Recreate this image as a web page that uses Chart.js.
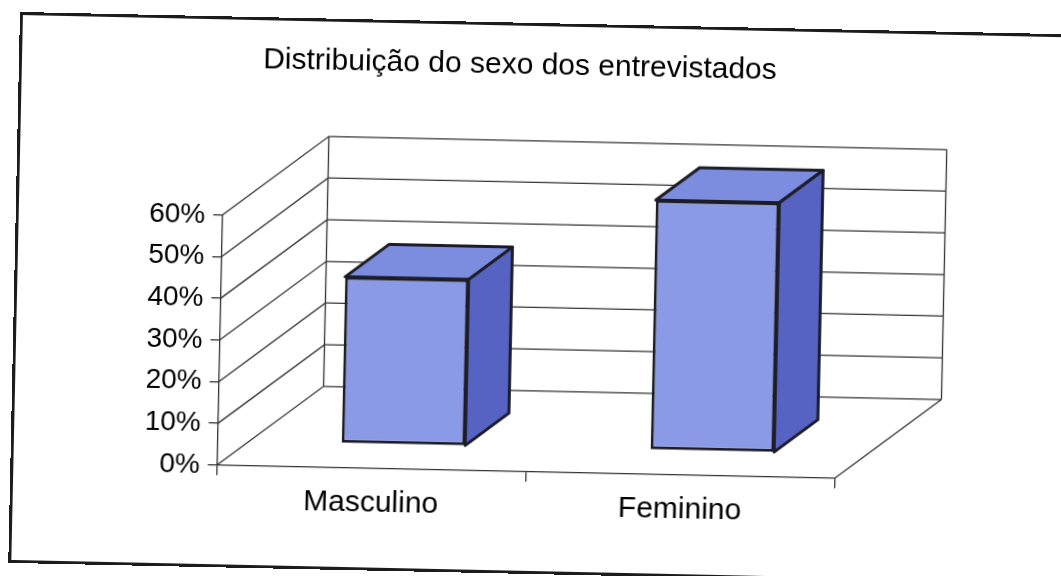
<!DOCTYPE html>
<html lang="pt-BR">
<head>
<meta charset="utf-8">
<title>Distribuição do sexo dos entrevistados</title>
<script src="https://cdn.jsdelivr.net/npm/chart.js@4.4.1/dist/chart.umd.min.js"></script>
<style>
    html, body { margin: 0; padding: 0; background: #fff; }
    body { width: 1061px; height: 576px; overflow: hidden; position: relative; }
    /* quadro levemente inclinado, como a página digitalizada */
    #quadro {
        position: absolute; left: 20px; top: 12px;
        width: 1060px; height: 551px;
        transform: rotate(1.22deg); transform-origin: 0 0;
    }
    #area-grafico { position: absolute; left: 0; top: 1px; width: 1002px; height: 548px; }
    #moldura {
        position: absolute; left: 0; top: 0; right: 0; bottom: 0;
        border: 3px solid #1c1c1c; box-sizing: border-box; pointer-events: none;
    }
</style>
</head>
<body>
<div id="quadro">
    <div id="area-grafico"><canvas id="graficoSexo"></canvas></div>
    <div id="moldura"></div>
</div>
<script>
// Dados do gráfico
const categorias = ['Masculino', 'Feminino'];
const percentuais = [0.40, 0.60];
const ticksEixoY = [0, 0.1, 0.2, 0.3, 0.4, 0.5, 0.6];

// Aparência
const corLinha = '#333333';
const corFrente = '#8a9ae6';
const corTopo = '#7c8cde';
const corLado = '#5663c2';
const corContorno = '#1d1d28';
const fonte = "'Liberation Sans', Arial, sans-serif";

// Perspectiva: deslocamento da parede do fundo em relação ao plano frontal
const profundidade = { x: 105, y: -81 };
const frenteBarra = 0.30; // posição da face frontal da barra na profundidade
const fundoBarra = 0.71;  // posição da face traseira

const efeito3d = {
    id: 'efeito3d',
    beforeDatasetsDraw(chart) {
        const { ctx, chartArea: a, scales: { y } } = chart;
        const dx = profundidade.x, dy = profundidade.y;
        const y0 = y.getPixelForValue(y.min);
        const yMax = y.getPixelForValue(y.max);

        // Paredes lateral e do fundo com as linhas de grade
        ctx.save();
        ctx.strokeStyle = corLinha;
        ctx.lineWidth = 1.3;
        ctx.beginPath();
        ticksEixoY.forEach(v => {
            const py = y.getPixelForValue(v);
            ctx.moveTo(a.left, py);
            ctx.lineTo(a.left + dx, py + dy);
            ctx.lineTo(a.right + dx, py + dy);
        });
        ctx.moveTo(a.left + dx, y0 + dy);
        ctx.lineTo(a.left + dx, yMax + dy);
        ctx.moveTo(a.right + dx, y0 + dy);
        ctx.lineTo(a.right + dx, yMax + dy);
        // lado direito do piso
        ctx.moveTo(a.right, y0);
        ctx.lineTo(a.right + dx, y0 + dy);
        ctx.stroke();

        // Topo e lateral de cada barra
        const fx = frenteBarra * dx, fy = frenteBarra * dy;
        const bx = (fundoBarra - frenteBarra) * dx, by = (fundoBarra - frenteBarra) * dy;
        ctx.lineWidth = 3;
        ctx.lineJoin = 'round';
        ctx.strokeStyle = corContorno;
        chart.getDatasetMeta(0).data.forEach(barra => {
            const { x, y: topo, base, width } = barra.getProps(['x', 'y', 'base', 'width'], true);
            const esq = x - width / 2 + fx;
            const dir = x + width / 2 + fx;
            const t = topo + fy;
            const b = base + fy;

            ctx.beginPath();
            ctx.moveTo(esq, t);
            ctx.lineTo(esq + bx, t + by);
            ctx.lineTo(dir + bx, t + by);
            ctx.lineTo(dir, t);
            ctx.closePath();
            ctx.fillStyle = corTopo;
            ctx.fill();
            ctx.stroke();

            ctx.beginPath();
            ctx.moveTo(dir, t);
            ctx.lineTo(dir + bx, t + by);
            ctx.lineTo(dir + bx, b + by);
            ctx.lineTo(dir, b);
            ctx.closePath();
            ctx.fillStyle = corLado;
            ctx.fill();
            ctx.stroke();
        });
        ctx.restore();

        // A face frontal (desenhada pelo Chart.js) fica no meio da profundidade
        ctx.save();
        ctx.translate(fx, fy);
    },
    afterDatasetsDraw(chart) {
        chart.ctx.restore();
    }
};

function inicializarGrafico() {
    const ctx = document.getElementById('graficoSexo').getContext('2d');

    new Chart(ctx, {
        type: 'bar',
        data: {
            labels: categorias,
            datasets: [{
                label: 'Entrevistados',
                data: percentuais,
                backgroundColor: corFrente,
                borderColor: corContorno,
                borderWidth: 3,
                borderSkipped: false,
                categoryPercentage: 1,
                barPercentage: 0.4,
                clip: false
            }]
        },
        options: {
            responsive: true,
            maintainAspectRatio: false,
            animation: false,
            events: [],
            layout: { padding: 0 },
            plugins: {
                legend: { display: false },
                tooltip: { enabled: false },
                title: {
                    display: true,
                    text: 'Distribuição do sexo dos entrevistados',
                    color: '#000',
                    font: { family: fonte, size: 30, weight: 'normal', lineHeight: 1.2 },
                    padding: { top: 23.5, bottom: 138.3 }
                }
            },
            scales: {
                x: {
                    offset: true,
                    grid: {
                        offset: true,
                        drawOnChartArea: false,
                        drawTicks: true,
                        tickLength: 10,
                        color: corLinha,
                        lineWidth: 1.3
                    },
                    border: { display: true, color: corLinha, width: 1.3 },
                    ticks: {
                        color: '#000',
                        padding: 7,
                        font: { family: fonte, size: 30 }
                    },
                    afterFit: escala => { escala.height = 100.2; }
                },
                y: {
                    min: 0,
                    max: 0.6,
                    afterBuildTicks: escala => {
                        escala.ticks = ticksEixoY.map(v => ({ value: v }));
                    },
                    grid: {
                        drawOnChartArea: false,
                        drawTicks: true,
                        tickLength: 9,
                        color: corLinha,
                        lineWidth: 1.3
                    },
                    border: { display: true, color: corLinha, width: 1.3 },
                    ticks: {
                        color: '#000',
                        padding: 8,
                        font: { family: fonte, size: 28 },
                        callback: v => Math.round(v * 100) + '%'
                    },
                    afterFit: escala => { escala.width = 206.5; }
                },
                // eixo vazio à direita: reserva o espaço da perspectiva
                espacoDireita: {
                    type: 'linear',
                    position: 'right',
                    display: true,
                    grid: { display: false },
                    border: { display: false },
                    ticks: { display: false },
                    afterFit: escala => { escala.width = 177.5; }
                }
            }
        },
        plugins: [efeito3d]
    });
}

document.addEventListener('DOMContentLoaded', inicializarGrafico);
</script>
</body>
</html>
